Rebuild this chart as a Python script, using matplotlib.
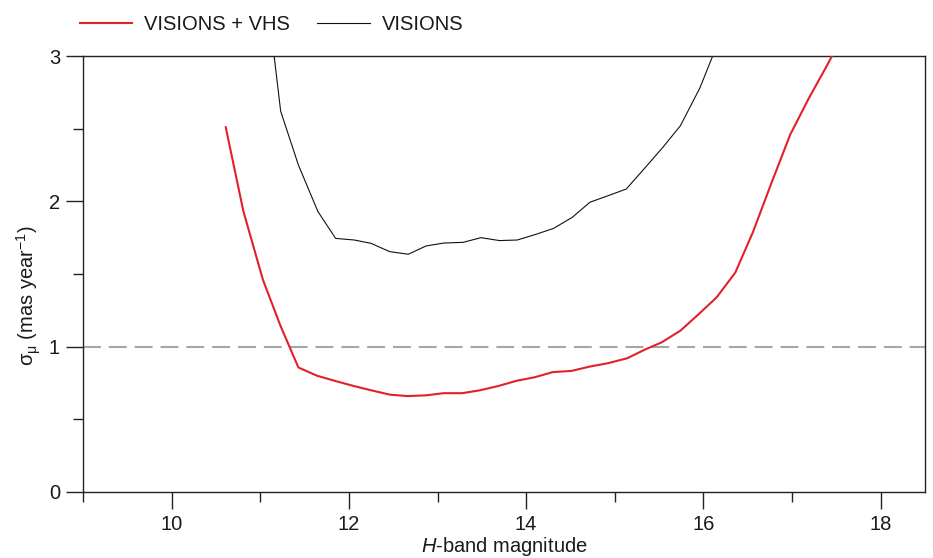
import numpy as np
import matplotlib
matplotlib.use("Agg")
import matplotlib.pyplot as plt
from matplotlib.ticker import MultipleLocator

plt.rcParams['font.family'] = ['Liberation Sans', 'DejaVu Sans']
plt.rcParams['mathtext.fontset'] = 'custom'
plt.rcParams['mathtext.rm'] = 'Liberation Sans'
plt.rcParams['mathtext.it'] = 'Liberation Sans:italic'

# VISIONS + VHS (red)
mag_vhs = [10.61, 10.81, 11.03, 11.23, 11.43, 11.64, 11.84, 12.05, 12.25, 12.46,
           12.66, 12.87, 13.07, 13.28, 13.48, 13.69, 13.89, 14.10, 14.30, 14.51,
           14.71, 14.92, 15.14, 15.34, 15.53, 15.74, 15.94, 16.15, 16.36, 16.56,
           16.77, 16.98, 17.19, 17.39, 17.59]
sig_vhs = [2.51, 1.93, 1.46, 1.14, 0.857, 0.80, 0.765, 0.73, 0.70, 0.67,
           0.66, 0.665, 0.68, 0.68, 0.70, 0.73, 0.765, 0.79, 0.825, 0.833,
           0.862, 0.886, 0.92, 0.98, 1.03, 1.11, 1.22, 1.34, 1.51, 1.79,
           2.13, 2.46, 2.71, 2.93, 3.16]

# VISIONS only (black)
mag_vis = [11.02, 11.23, 11.43, 11.65, 11.85, 12.06, 12.25, 12.46, 12.67, 12.87,
           13.07, 13.29, 13.49, 13.70, 13.90, 14.11, 14.31, 14.52, 14.72, 14.93,
           15.13, 15.34, 15.54, 15.74, 15.96, 16.17]
sig_vis = [3.7, 2.62, 2.25, 1.93, 1.745, 1.734, 1.711, 1.654, 1.636, 1.693,
           1.713, 1.718, 1.75, 1.73, 1.734, 1.773, 1.814, 1.89, 1.994, 2.04,
           2.085, 2.23, 2.37, 2.52, 2.78, 3.1]

txt = '#1a1a1a'

fig = plt.figure(figsize=(9.33, 5.58), dpi=100)
ax = fig.add_axes([0.089, 0.1183, 0.9024, 0.7813])

ax.axhline(1, color='#a6a6a6', lw=1.5, dashes=(8.6, 3.8), zorder=1)
ax.plot(mag_vhs, sig_vhs, color='#e3202a', lw=1.5, label='VISIONS + VHS', zorder=3)
ax.plot(mag_vis, sig_vis, color='#111111', lw=0.8, label='VISIONS', zorder=2)

ax.set_xlim(9, 18.5)
ax.set_ylim(0, 3)
ax.xaxis.set_major_locator(MultipleLocator(2))
ax.xaxis.set_minor_locator(MultipleLocator(1))
ax.yaxis.set_major_locator(MultipleLocator(1))
ax.yaxis.set_minor_locator(MultipleLocator(0.5))
ax.tick_params(which='major', length=12.5, width=1, color='#222222',
               labelsize=14.5, labelcolor=txt, pad=4)
ax.tick_params(which='minor', length=7.2, width=1, color='#222222')
for s in ax.spines.values():
    s.set_linewidth(1)
    s.set_color('#222222')

ax.set_xlabel(r'$\it{H}$-band magnitude', fontsize=14.5, color=txt, labelpad=1)
ax.set_ylabel(r'$\mathrm{\sigma_{\mu}}$ (mas year$^{-1}$)', fontsize=14.5, color=txt)
ax.yaxis.set_label_coords(-0.048, 0.45)

ax.legend(loc='center left', bbox_to_anchor=(-0.004, 1.073), ncol=2, frameon=False,
          fontsize=14.5, handlelength=2.6, handletextpad=0.6, columnspacing=1.35,
          borderpad=0, borderaxespad=0, labelcolor=txt)

fig.savefig('out.png', dpi=100)
